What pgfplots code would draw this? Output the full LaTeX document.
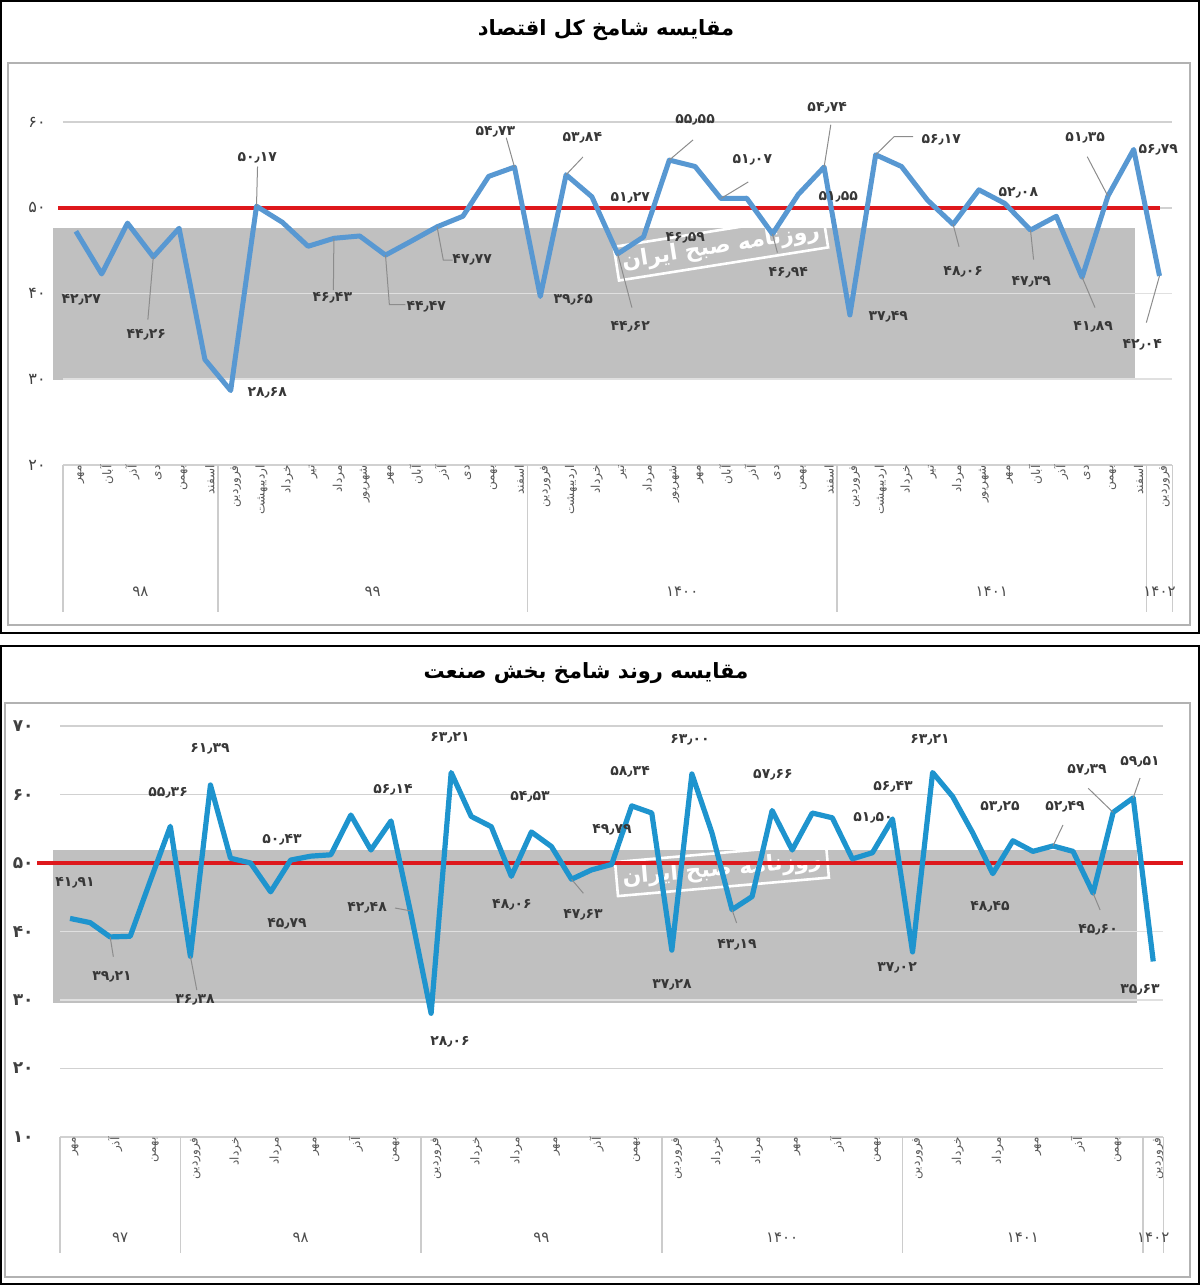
\documentclass[border=0pt]{standalone}
\usepackage{fontspec}
\usepackage{pgfplots}
\pgfplotsset{compat=1.18}
\TeXXeTstate=1
\newfontfamily\fa[Script=Arabic]{DejaVu Sans}
\newcommand{\R}[1]{\beginR#1\endR}
\definecolor{lineA}{RGB}{88,152,210}
\definecolor{lineB}{RGB}{30,148,206}
\definecolor{redl}{RGB}{222,24,28}
\definecolor{boxg}{RGB}{192,192,192}
\definecolor{labc}{RGB}{55,55,55}
\tikzset{
  lab/.style={font=\fa\bfseries\fontsize{7}{8}\selectfont, text=labc, inner sep=0pt},
  leader/.style={draw=black!45, line width=0.5pt},
  wm/.style={draw=white, line width=1.3pt, text=white, font=\fa\bfseries\fontsize{11}{12}\selectfont, inner sep=3pt},
}
\pgfplotsset{
  base/.style={scale only axis, clip=false,
    axis line style={draw=none}, tick style={draw=none},
    ymajorgrids, grid style={draw=black!18, line width=0.9pt},
    xticklabel style={rotate=90, anchor=east, inner sep=0pt, yshift=-2.5pt,
      font=\fa\fontsize{6}{7}\selectfont, text=black!65},
  },
}
\begin{document}
\begin{tikzpicture}
\useasboundingbox (0pt,0pt) rectangle (600pt,-642.5pt);
% frames
\draw[black, line width=1pt] (0.5pt,-0.5pt) rectangle (599.5pt,-316.5pt);
\draw[black!30, line width=0.8pt] (4pt,-31.5pt) rectangle (595pt,-312.5pt);
\draw[black, line width=1pt] (0.5pt,-323pt) rectangle (599.5pt,-642pt);
\draw[black!30, line width=0.8pt] (2.5pt,-351.5pt) rectangle (595pt,-638.5pt);
% titles
\node[font=\fa\bfseries\fontsize{10.5}{12}\selectfont] at (303pt,-15pt) {\R{مقایسه شامخ کل اقتصاد}};
\node[font=\fa\bfseries\fontsize{10.5}{12}\selectfont] at (293pt,-336.5pt) {\R{مقایسه روند شامخ بخش صنعت}};

% ---------------- top chart ----------------
\begin{axis}[base, at={(31.5pt,-232.5pt)}, anchor=south west,
  width=554.7pt, height=193pt,
  xmin=-0.5, xmax=42.5, ymin=20, ymax=65,
  ytick={20,30,40,50,60}, yticklabels={۲۰,۳۰,۴۰,۵۰,۶۰},
  yticklabel style={anchor=east, inner sep=0pt, xshift=-8.5pt, font=\fa\fontsize{8}{9}\selectfont, text=black!75},
  xtick={0,...,42},
  xticklabels={\R{مهر},\R{آبان},\R{آذر},\R{دی},\R{بهمن},\R{اسفند},
    \R{فروردین},\R{اردیبهشت},\R{خرداد},\R{تیر},\R{مرداد},\R{شهریور},\R{مهر},\R{آبان},\R{آذر},\R{دی},\R{بهمن},\R{اسفند},
    \R{فروردین},\R{اردیبهشت},\R{خرداد},\R{تیر},\R{مرداد},\R{شهریور},\R{مهر},\R{آبان},\R{آذر},\R{دی},\R{بهمن},\R{اسفند},
    \R{فروردین},\R{اردیبهشت},\R{خرداد},\R{تیر},\R{مرداد},\R{شهریور},\R{مهر},\R{آبان},\R{آذر},\R{دی},\R{بهمن},\R{اسفند},
    \R{فروردین}},
]
\addplot[fill=boxg, draw=none] coordinates {(-0.87,29.95) (41.06,29.95) (41.06,47.67) (-0.87,47.67)} -- cycle;
\addplot[draw=black!12, line width=0.9pt] coordinates {(-0.5,40) (42.5,40)};
\addplot[draw=black!12, line width=0.9pt] coordinates {(-0.5,30) (42.5,30)};
\node[wm, rotate=9] at (axis cs:25.0,45.4) {\R{روزنامه صبح ایران}};
\addplot[redl, line width=2pt] coordinates {(-0.68,50) (42.0,50)};
\addplot[lineA, line width=2.5pt, line join=round] coordinates {
(0,47.25) (1,42.27) (2,48.2) (3,44.26) (4,47.6) (5,32.3) (6,28.68) (7,50.17)
(8,48.3) (9,45.5) (10,46.43) (11,46.7) (12,44.47) (13,46.1) (14,47.77) (15,49.0)
(16,53.65) (17,54.73) (18,39.65) (19,53.84) (20,51.27) (21,44.62) (22,46.59) (23,55.55)
(24,54.8) (25,51.07) (26,51.1) (27,46.94) (28,51.55) (29,54.74) (30,37.49) (31,56.17)
(32,54.8) (33,50.9) (34,48.06) (35,52.08) (36,50.5) (37,47.39) (38,49.0) (39,41.89)
(40,51.35) (41,56.79) (42,42.04)};
% leader lines
\draw[leader] (axis cs:3,44.26) -- (axis cs:2.79,36.95);
\draw[leader] (axis cs:10,46.43) -- (axis cs:9.98,40.4);
\draw[leader] (axis cs:12,44.47) -- (axis cs:12.15,38.7) -- (axis cs:12.77,38.7);
\draw[leader] (axis cs:14,47.77) -- (axis cs:14.24,43.9) -- (axis cs:14.6,43.9);
\draw[leader] (axis cs:17,54.73) -- (axis cs:16.68,58.16);
\draw[leader] (axis cs:19,53.84) -- (axis cs:19.65,55.9);
\draw[leader] (axis cs:7,50.17) -- (axis cs:7.04,54.8);
\draw[leader] (axis cs:23,55.55) -- (axis cs:23.92,57.9);
\draw[leader] (axis cs:25,51.07) -- (axis cs:26.06,53.0);
\draw[leader] (axis cs:21,44.62) -- (axis cs:21.55,38.35);
\draw[leader] (axis cs:27,46.94) -- (axis cs:27.19,44.76);
\draw[leader] (axis cs:29,54.74) -- (axis cs:29.26,59.67);
\draw[leader] (axis cs:31,56.17) -- (axis cs:31.71,58.27) -- (axis cs:32.45,58.27);
\draw[leader] (axis cs:34,48.06) -- (axis cs:34.23,45.45);
\draw[leader] (axis cs:37,47.39) -- (axis cs:37.12,43.94);
\draw[leader] (axis cs:39,41.89) -- (axis cs:39.5,38.35);
\draw[leader] (axis cs:40,51.35) -- (axis cs:39.2,55.94);
\draw[leader] (axis cs:42,42.04) -- (axis cs:41.49,36.6);
% data labels
\node[lab] at (axis cs:0.21,39.28) {۴۲٫۲۷};
\node[lab] at (axis cs:2.73,35.2) {۴۴٫۲۶};
\node[lab] at (axis cs:7.42,28.44) {۲۸٫۶۸};
\node[lab] at (axis cs:7.03,55.83) {۵۰٫۱۷};
\node[lab] at (axis cs:9.94,39.5) {۴۶٫۴۳};
\node[lab] at (axis cs:13.58,38.46) {۴۴٫۴۷};
\node[lab] at (axis cs:15.36,43.94) {۴۷٫۷۷};
\node[lab] at (axis cs:16.26,58.86) {۵۴٫۷۳};
\node[lab] at (axis cs:19.28,39.28) {۳۹٫۶۵};
\node[lab] at (axis cs:19.63,58.16) {۵۳٫۸۴};
\node[lab] at (axis cs:21.49,51.17) {۵۱٫۲۷};
\node[lab] at (axis cs:23.62,46.5) {۴۶٫۵۹};
\node[lab] at (axis cs:21.49,36.13) {۴۴٫۶۲};
\node[lab] at (axis cs:24.0,60.26) {۵۵٫۵۵};
\node[lab] at (axis cs:26.22,55.59) {۵۱٫۰۷};
\node[lab] at (axis cs:27.61,42.42) {۴۶٫۹۴};
\node[lab] at (axis cs:29.12,61.66) {۵۴٫۷۴};
\node[lab] at (axis cs:29.55,51.28) {۵۱٫۵۵};
\node[lab] at (axis cs:31.49,37.3) {۳۷٫۴۹};
\node[lab] at (axis cs:33.54,57.93) {۵۶٫۱۷};
\node[lab] at (axis cs:34.39,42.54) {۴۸٫۰۶};
\node[lab] at (axis cs:36.53,51.75) {۵۲٫۰۸};
\node[lab] at (axis cs:37.03,41.38) {۴۷٫۳۹};
\node[lab] at (axis cs:39.43,36.13) {۴۱٫۸۹};
\node[lab] at (axis cs:39.12,58.16) {۵۱٫۳۵};
\node[lab] at (axis cs:41.95,56.76) {۵۶٫۷۹};
\node[lab] at (axis cs:41.33,34.03) {۴۲٫۰۴};
% category separators and year labels
\foreach \s in {-0.5,5.5,17.5,29.5,41.5,42.5} {
  \edef\tmp{\noexpand\draw[black!20, line width=0.8pt] (axis cs:\s,20) -- ([yshift=-73.5pt]axis cs:\s,20);}\tmp
}
\foreach \xx/\yy in {2.5/۹۸,11.5/۹۹,23.5/۱۴۰۰,35.5/۱۴۰۱,42/۱۴۰۲} {
  \edef\tmp{\noexpand\node[font=\noexpand\fa\noexpand\fontsize{7.5}{9}\noexpand\selectfont, text=black!70] at (axis cs:\xx,20) [yshift=-63.5pt] {\yy};}\tmp
}
\end{axis}

% ---------------- bottom chart ----------------
\begin{axis}[base, at={(30pt,-568.5pt)}, anchor=south west,
  width=551.65pt, height=205.5pt,
  xmin=-0.5, xmax=54.5, ymin=10, ymax=70,
  ytick={10,20,30,40,50,60,70}, yticklabels={۱۰,۲۰,۳۰,۴۰,۵۰,۶۰,۷۰},
  yticklabel style={anchor=east, inner sep=0pt, xshift=-13pt, font=\fa\bfseries\fontsize{8.5}{10}\selectfont, text=black!75},
  xtick={0,2,...,54},
  xticklabels={\R{مهر},\R{آذر},\R{بهمن},
    \R{فروردین},\R{خرداد},\R{مرداد},\R{مهر},\R{آذر},\R{بهمن},
    \R{فروردین},\R{خرداد},\R{مرداد},\R{مهر},\R{آذر},\R{بهمن},
    \R{فروردین},\R{خرداد},\R{مرداد},\R{مهر},\R{آذر},\R{بهمن},
    \R{فروردین},\R{خرداد},\R{مرداد},\R{مهر},\R{آذر},\R{بهمن},
    \R{فروردین}},
]
\addplot[fill=boxg, draw=none] coordinates {(-0.85,29.56) (53.19,29.56) (53.19,51.9) (-0.85,51.9)} -- cycle;
\addplot[draw=black!12, line width=0.9pt] coordinates {(-0.5,40) (54.5,40)};
\addplot[draw=black!12, line width=0.9pt] coordinates {(-0.5,30) (54.5,30)};
\node[wm, rotate=5] at (axis cs:32.5,49.0) {\R{روزنامه صبح ایران}};
\addplot[redl, line width=2pt] coordinates {(-1.64,50) (55.5,50)};
\addplot[lineB, line width=2.6pt, line join=round] coordinates {
(0,41.91) (1,41.3) (2,39.21) (3,39.3) (4,47.4) (5,55.36) (6,36.38) (7,61.39)
(8,50.7) (9,50.0) (10,45.79) (11,50.43) (12,51.0) (13,51.2) (14,57.0) (15,51.9)
(16,56.14) (17,42.48) (18,28.06) (19,63.21) (20,56.8) (21,55.3) (22,48.06) (23,54.53)
(24,52.4) (25,47.63) (26,49.0) (27,49.79) (28,58.34) (29,57.3) (30,37.28) (31,63.00)
(32,54.4) (33,43.19) (34,45.1) (35,57.66) (36,51.9) (37,57.3) (38,56.6) (39,50.6)
(40,51.50) (41,56.43) (42,37.02) (43,63.21) (44,59.7) (45,54.4) (46,48.45) (47,53.25)
(48,51.7) (49,52.49) (50,51.7) (51,45.60) (52,57.39) (53,59.51) (54,35.63)};
% leaders
\draw[leader] (axis cs:2,39.21) -- (axis cs:2.16,36.32);
\draw[leader] (axis cs:6,36.38) -- (axis cs:6.32,31.46);
\draw[leader] (axis cs:16.2,43.43) -- (axis cs:17,43.0);
\draw[leader] (axis cs:25,47.63) -- (axis cs:25.59,45.58);
\draw[leader] (axis cs:33,43.19) -- (axis cs:33.23,41.24);
\draw[leader] (axis cs:49,52.49) -- (axis cs:49.5,55.55);
\draw[leader] (axis cs:51,45.60) -- (axis cs:51.35,43.14);
\draw[leader] (axis cs:52,57.39) -- (axis cs:50.76,60.9);
\draw[leader] (axis cs:53,59.51) -- (axis cs:53.34,62.4);
% labels
\node[lab] at (axis cs:0.25,47.08) {۴۱٫۹۱};
\node[lab] at (axis cs:2.09,33.36) {۳۹٫۲۱};
\node[lab] at (axis cs:6.23,30.0) {۳۶٫۳۸};
\node[lab] at (axis cs:4.89,60.22) {۵۵٫۳۶};
\node[lab] at (axis cs:6.98,66.64) {۶۱٫۳۹};
\node[lab] at (axis cs:10.57,53.36) {۵۰٫۴۳};
\node[lab] at (axis cs:10.82,41.09) {۴۵٫۷۹};
\node[lab] at (axis cs:14.81,43.43) {۴۲٫۴۸};
\node[lab] at (axis cs:16.1,60.66) {۵۶٫۱۴};
\node[lab] at (axis cs:18.94,68.25) {۶۳٫۲۱};
\node[lab] at (axis cs:18.94,23.87) {۲۸٫۰۶};
\node[lab] at (axis cs:22.93,59.64) {۵۴٫۵۳};
\node[lab] at (axis cs:22.03,43.87) {۴۸٫۰۶};
\node[lab] at (axis cs:25.57,42.41) {۴۷٫۶۳};
\node[lab] at (axis cs:27.02,54.82) {۴۹٫۷۹};
\node[lab] at (axis cs:27.92,63.28) {۵۸٫۳۴};
\node[lab] at (axis cs:30.91,67.96) {۶۳٫۰۰};
\node[lab] at (axis cs:30.01,32.19) {۳۷٫۲۸};
\node[lab] at (axis cs:33.25,38.03) {۴۳٫۱۹};
\node[lab] at (axis cs:35.04,62.85) {۵۷٫۶۶};
\node[lab] at (axis cs:40.03,56.57) {۵۱٫۵۰};
\node[lab] at (axis cs:41.03,61.09) {۵۶٫۴۳};
\node[lab] at (axis cs:41.23,34.67) {۳۷٫۰۲};
\node[lab] at (axis cs:42.87,67.96) {۶۳٫۲۱};
\node[lab] at (axis cs:46.36,58.18) {۵۳٫۲۵};
\node[lab] at (axis cs:49.6,58.18) {۵۲٫۴۹};
\node[lab] at (axis cs:45.86,43.58) {۴۸٫۴۵};
\node[lab] at (axis cs:51.25,40.22) {۴۵٫۶۰};
\node[lab] at (axis cs:50.7,63.58) {۵۷٫۳۹};
\node[lab] at (axis cs:53.34,64.74) {۵۹٫۵۱};
\node[lab] at (axis cs:53.34,31.46) {۳۵٫۶۳};
\foreach \s in {-0.5,5.5,17.5,29.5,41.5,53.5,54.5} {
  \edef\tmp{\noexpand\draw[black!20, line width=0.8pt] (axis cs:\s,10) -- ([yshift=-58pt]axis cs:\s,10);}\tmp
}
\foreach \xx/\yy in {2.5/۹۷,11.5/۹۸,23.5/۹۹,35.5/۱۴۰۰,47.5/۱۴۰۱,54/۱۴۰۲} {
  \edef\tmp{\noexpand\node[font=\noexpand\fa\noexpand\fontsize{7.5}{9}\noexpand\selectfont, text=black!70] at (axis cs:\xx,10) [yshift=-50.5pt] {\yy};}\tmp
}
\end{axis}
\end{tikzpicture}
\end{document}
